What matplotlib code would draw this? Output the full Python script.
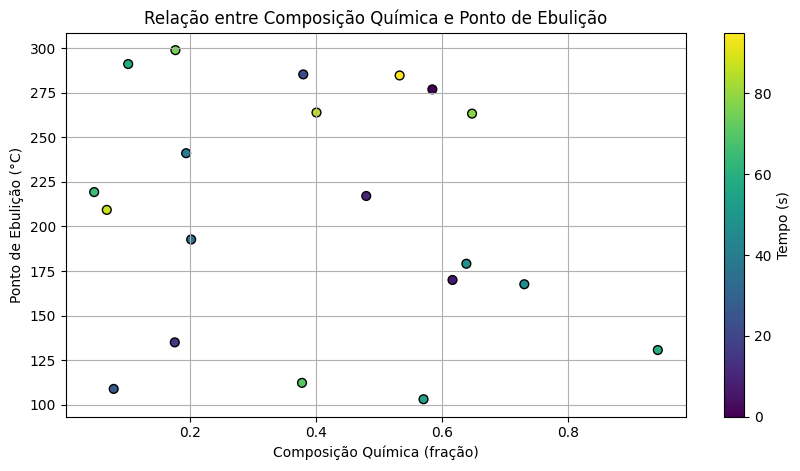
import numpy as np
import matplotlib
matplotlib.use("Agg")
import matplotlib.pyplot as plt

# valores
composicao = [0.102, 0.177, 0.380, 0.533, 0.585, 0.401, 0.648, 0.194, 0.048, 0.068,
              0.480, 0.202, 0.639, 0.617, 0.731, 0.943, 0.176, 0.079, 0.378, 0.571]
ebulicao = [291.1, 298.9, 285.3, 284.7, 276.9, 263.9, 263.3, 241.1, 219.3, 209.3,
            217.1, 192.7, 179.1, 170.0, 167.6, 130.7, 135.0, 108.9, 112.3, 103.1]
tempo = [58, 75, 22, 95, 0, 86, 78, 40, 65, 87,
         10, 35, 48, 6, 45, 60, 15, 27, 70, 55]

fig = plt.figure(figsize=(8, 4.71), dpi=100)
ax = fig.add_axes([0.0825, 0.1153, 0.775, 0.8153])
cax = fig.add_axes([0.9054, 0.1153, 0.025, 0.8153])

sc = ax.scatter(composicao, ebulicao, c=tempo, cmap='viridis', s=40, edgecolors='black')
ax.set_title('Relação entre Composição Química e Ponto de Ebulição')
ax.set_xlabel('Composição Química (fração)')
ax.set_ylabel('Ponto de Ebulição (°C)')
ax.grid(True)

cbar = fig.colorbar(sc, cax=cax)
cbar.set_label('Tempo (s)')

fig.savefig('out.png', dpi=100)
